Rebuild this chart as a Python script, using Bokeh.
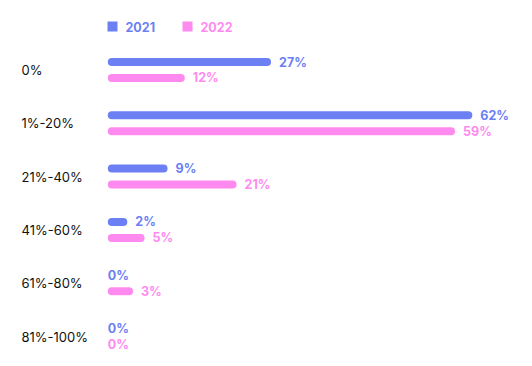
from bokeh.plotting import figure
from bokeh.models import ColumnDataSource, Range1d
from bokeh.core.properties import value
from bokeh.embed import file_html
from bokeh.resources import INLINE

categories = ["0%", "1%-20%", "21%-40%", "41%-60%", "61%-80%", "81%-100%"]
values_2021 = [27, 62, 9, 2, 0, 0]
values_2022 = [12, 59, 21, 5, 3, 0]
years = ["2021", "2022"]

BLUE = "#6C80F4"
PINK = "#FF8AEF"
FONT = "Inter"

W, H = 516, 358
PX_PER_UNIT_X = 5.75
X0_PX = 111.3
ROW_PX = 53.3
ROW0_PX = 69.5

x_start = -X0_PX / PX_PER_UNIT_X
x_end = (W - X0_PX) / PX_PER_UNIT_X
y_top = -ROW0_PX / ROW_PX
y_bottom = H / ROW_PX + y_top

p = figure(width=W, height=H, output_backend="svg", toolbar_location=None,
           x_range=Range1d(x_start, x_end), y_range=Range1d(y_bottom, y_top),
           min_border=0, x_axis_location=None, y_axis_location=None)
p.grid.visible = False
p.outline_line_color = None
p.background_fill_color = "white"

idx = list(range(len(categories)))
OFF = 0.15

for vals, color, sign in [(values_2021, BLUE, -1), (values_2022, PINK, 1)]:
    ys = [i + sign * OFF for i in idx]
    src = ColumnDataSource(dict(
        y=ys, v=vals, zero=[0] * len(vals),
        alpha=[1.0 if v > 0 else 0.0 for v in vals],
        lab=[f"{v}%" for v in vals],
        xoff=[12 if v > 0 else -4 for v in vals],
    ))
    p.segment(x0="zero", y0="y", x1="v", y1="y", source=src, line_color=color,
              line_width=8, line_cap="round", line_alpha="alpha")
    p.text(x="v", y="y", text="lab", source=src, x_offset="xoff",
           text_color=color, text_font=value(FONT), text_font_style="bold",
           text_font_size="12.5px", text_baseline="middle", text_align="left")

# category labels
cat_src = ColumnDataSource(dict(y=idx, c=categories, x=[-90.3 / PX_PER_UNIT_X] * len(idx)))
p.text(x="x", y="y", text="c", source=cat_src, text_color="#111111",
       text_font=value(FONT), text_font_size="13px", text_baseline="middle",
       text_align="left")

# legend
leg_y = -0.815
leg_src = ColumnDataSource(dict(x=[0.7 / PX_PER_UNIT_X, 75.7 / PX_PER_UNIT_X],
                                y=[leg_y, leg_y], c=[BLUE, PINK]))
p.scatter(x="x", y="y", source=leg_src, marker="square", size=10,
          fill_color="c", line_color=None)
leg_t = ColumnDataSource(dict(x=[13.7 / PX_PER_UNIT_X, 88.7 / PX_PER_UNIT_X],
                              y=[leg_y, leg_y], t=years, c=[BLUE, PINK]))
p.text(x="x", y="y", text="t", source=leg_t, text_color="c",
       text_font=value(FONT), text_font_style="bold", text_font_size="12.5px",
       text_baseline="middle", text_align="left")

open("out.html", "w").write(file_html(p, INLINE))
